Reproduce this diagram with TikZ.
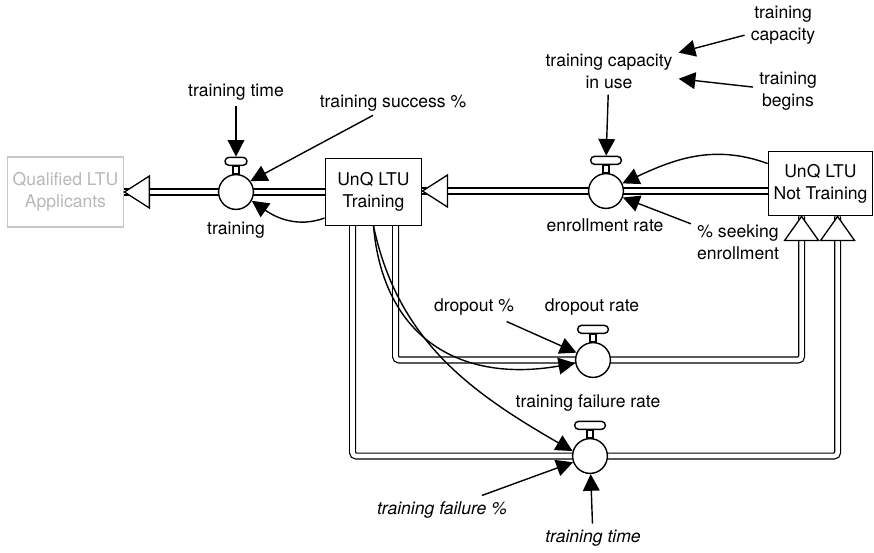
\documentclass[tikz,border=0pt]{standalone}
\usepackage{fontspec}
\setmainfont{TeX Gyre Heros}
\usepackage{tikz}
\usetikzlibrary{arrows.meta,positioning,calc}
\pgfdeclarelayer{back}
\pgfsetlayers{back,main}
\tikzset{stock/.style={draw=black,line width=0.75pt,align=center,inner sep=0pt}}
\tikzset{head/.style={draw,fill=white,line width=0.75pt,line join=miter}}

\begin{document}
\begin{tikzpicture}[x=0.02cm, y=-0.02cm, font=\fontsize{10}{12.5}\selectfont,
    link/.style={-{Triangle[length=9.5pt,width=9.5pt]}, line width=0.8pt},
    valve/.style={draw, circle, fill=white, line width=0.8pt, minimum size=19.8pt, inner sep=0pt},
    knob/.style={draw, fill=white, rounded corners=2.2pt, line width=0.8pt, minimum height=4.5pt, minimum width=17.5pt, inner sep=0pt},
    pipe/.style={draw, double=white, double distance=2.6pt, line width=0.7pt, rounded corners=2pt}]
        \useasboundingbox (0,0) rectangle (874,552);
        % stocks
        \node[stock, draw=black!22, text=black!28, minimum width=66.3pt, minimum height=39.7pt] (qual) at (65.5,192) {Qualified LTU\\Applicants};
        \node[stock, minimum width=55pt, minimum height=38pt] (trbox) at (373.5,192) {UnQ LTU\\Training};
        \node[stock, minimum width=59.5pt, minimum height=36.8pt] (ntbox) at (820.5,183.5) {UnQ LTU\\Not Training};
        % valves
        \node[valve] (train) at (236,192) {};
        \node[valve] (enr) at (606,191) {};
        \node[valve] (drop) at (593,360) {};
        \node[valve] (fail) at (590,456) {};
        \node[knob, minimum width=12.5pt, above=4.5pt of train] (ktrain) {};
        \node[knob, above=4.5pt of enr] (kenr) {};
        \node[knob, above=4.5pt of drop] (kdrop) {};
        \node[knob, above=4.5pt of fail] (kfail) {};
        \foreach \v in {train,enr,drop,fail}
            \draw[line width=0.8pt, fill=white] ($(\v.north)+(-3,0)$) rectangle ($(k\v.south)+(3,0)$);
        % labels
        \node (ttime) at (236,92) {training time};
        \node (tsucc) at (393,103) {training success \%};
        \node (trainlab) at (236,230) {training};
        \node[align=center] (tcu) at (609,71) {training capacity\\in use};
        \node[align=center] (tcap) at (783,25) {training\\capacity};
        \node[align=center] (tbeg) at (788,91) {training\\begins};
        \node (enrlab) at (605,225) {enrollment rate};
        \node[align=center] (pseek) at (738,242) {\% seeking\\enrollment};
        \node (droplab) at (592,307) {dropout rate};
        \node (dpct) at (474,307) {dropout \%};
        \node (faillab) at (588,403) {training failure rate};
        \node[font=\itshape] (tfpct) at (442,510) {training failure \%};
        \node[font=\itshape] (ttime2) at (593,538) {training time};
        % pipes
        \begin{pgfonlayer}{back}
            \draw[pipe] (trbox.west) -- (qual.east);
            \draw[pipe] (ntbox.west |- enr) -- (trbox.east |- enr);
            \draw[pipe] ($(trbox.south west)+(28,0)$) |- (fail) -| ($(ntbox.south west)+(70,0)$);
            \draw[pipe] ($(trbox.south west)+(71,0)$) |- (drop) -| ($(ntbox.south west)+(34,0)$);
        \end{pgfonlayer}
        \draw[head] (qual.east) -- ++(25,-16) -- ++(0,32) -- cycle;
        \draw[head] (trbox.east |- enr) -- ++(25,-16) -- ++(0,32) -- cycle;
        \draw[head] ($(ntbox.south west)+(34,0)$) -- ++(-17,24) -- ++(34,0) -- cycle;
        \draw[head] ($(ntbox.south west)+(70,0)$) -- ++(-17,24) -- ++(34,0) -- cycle;
        % links
        \draw[link] (ttime) -- (ktrain);
        \draw[link] ($(tsucc.south)+(-20,-2)$) -- (train.37);
        \draw[link] ($(trbox.south west)+(0,-8)$) to[out=200,in=-35] (train.-29);
        \draw[link] (tcu) -- (kenr);
        \draw[link] (tcap) -- (tcu);
        \draw[link] (tbeg) -- (tcu);
        \draw[link] ($(ntbox.west)+(0,-20)$) to[out=160,in=25] (enr.25);
        \draw[link] (pseek) -- (enr);
        \draw[link] (dpct) -- (drop);
        \draw[link] (trbox.south) to[out=-85,in=190,looseness=1.2] (drop.190);
        \draw[link] (trbox.south) to[out=-78,in=150] (fail.164);
        \draw[link] (tfpct) -- (fail);
        \draw[link] (ttime2) -- (fail);
\end{tikzpicture}
\end{document}
